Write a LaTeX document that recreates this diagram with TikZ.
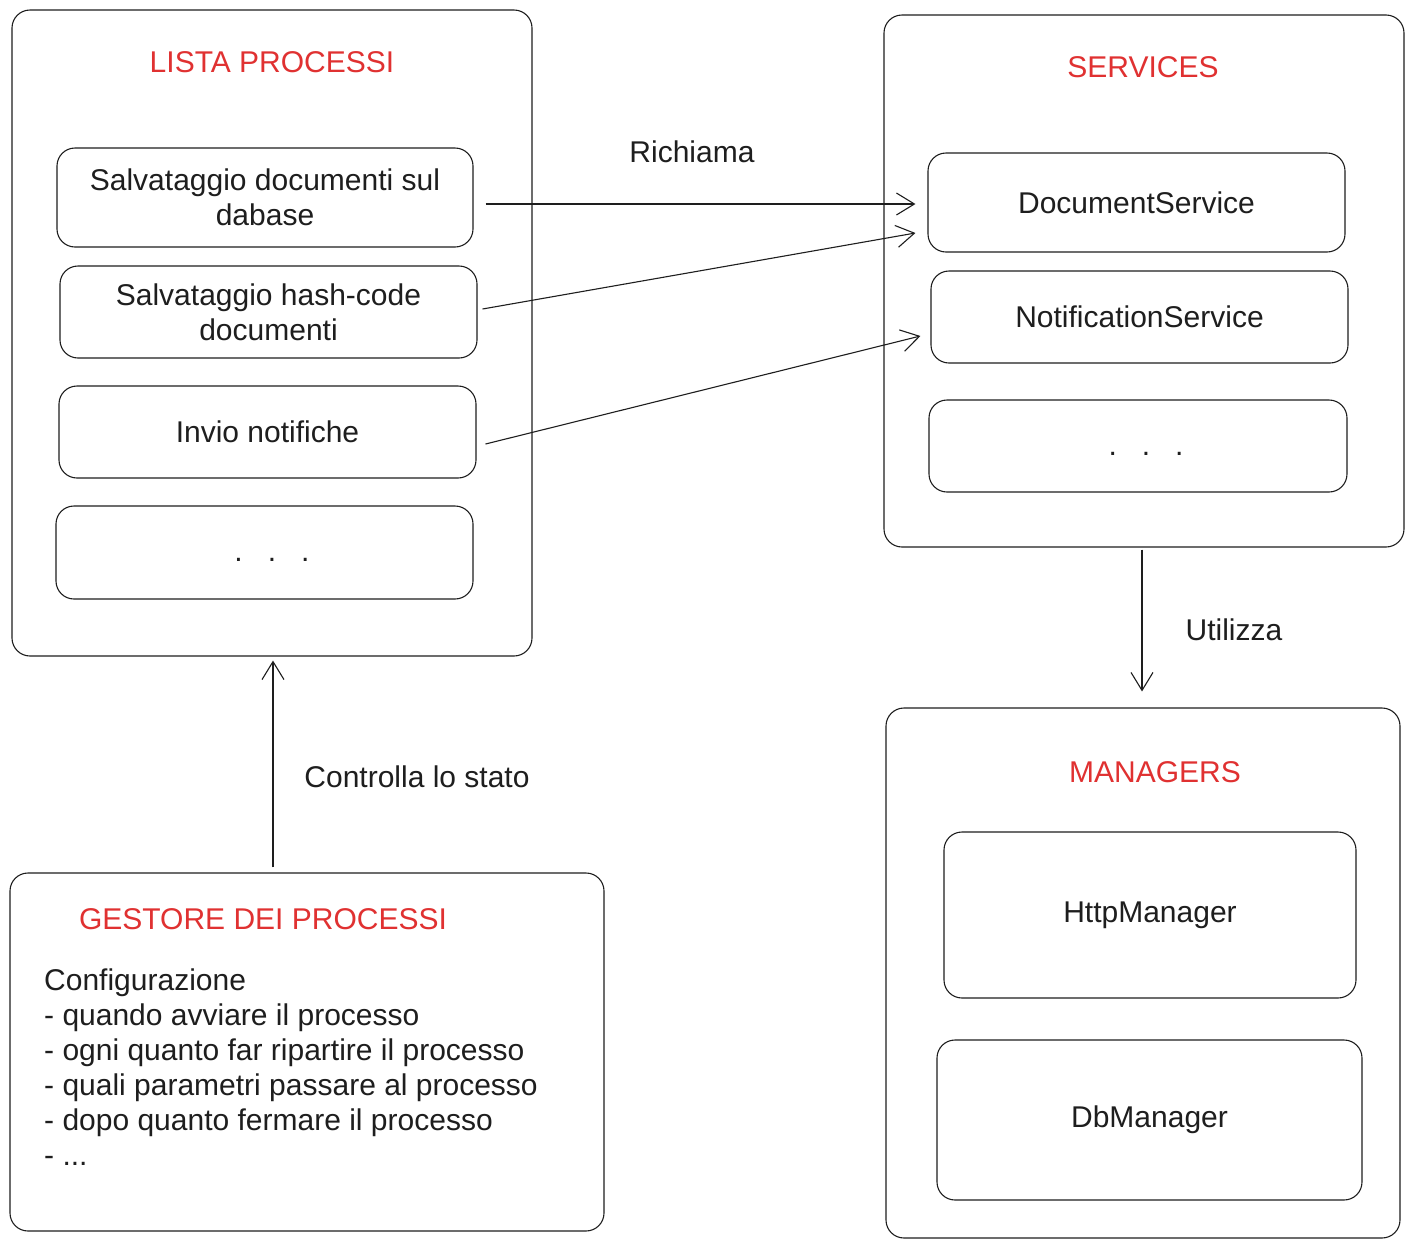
\documentclass[tikz,border=0pt]{standalone}
\usepackage{fontspec}
\setmainfont{Liberation Sans}
\usetikzlibrary{arrows.meta}
\definecolor{ink}{HTML}{1E1E1E}
\definecolor{exred}{HTML}{E03131}
\tikzset{
  box/.style={draw=ink, rounded corners=18pt, line width=1.1pt, inner sep=0pt},
  lbl/.style={text=ink, font=\fontsize{30}{35}\selectfont, align=center, inner sep=0pt},
  ttl/.style={text=exred, font=\fontsize{30}{35}\selectfont, inner sep=0pt},
  conn/.style={draw=ink, line width=1.1pt, -{Straight Barb[length=18pt,width=22pt,line width=1.1pt]}}
}
\begin{document}
\begin{tikzpicture}[x=1pt,y=-1pt]
\useasboundingbox[fill=white] (0,0) rectangle (1413,1248);
% LISTA PROCESSI
\node[box, minimum width=520pt, minimum height=646pt] (lista) at (272,333) {};
\node[ttl] (listaT) at (272,62) {LISTA PROCESSI};
\node[box, minimum width=416pt, minimum height=99pt, lbl] (p1) at (265,197.5) {Salvataggio documenti sul\\dabase};
\node[box, minimum width=417pt, minimum height=92pt, lbl] (p2) at (268.5,312) {Salvataggio hash-code\\documenti};
\node[box, minimum width=417pt, minimum height=92pt, lbl] (p3) at (267.5,432) {Invio notifiche};
\node[box, minimum width=417pt, minimum height=93pt] (p4) at (264.5,552.5) {};
\node[lbl] (p4d) at (272,560) {.\ \ \ .\ \ \ .};
% SERVICES
\node[box, minimum width=520pt, minimum height=532pt] (serv) at (1144,281) {};
\node[ttl] (servT) at (1143,67) {SERVICES};
\node[box, minimum width=417pt, minimum height=99pt, lbl] (s1) at (1136.5,202.5) {DocumentService};
\node[box, minimum width=417pt, minimum height=92pt, lbl] (s2) at (1139.5,317) {NotificationService};
\node[box, minimum width=418pt, minimum height=92pt] (s3) at (1138,446) {};
\node[lbl] (s3d) at (1146,454) {.\ \ \ .\ \ \ .};
% MANAGERS
\node[box, minimum width=514pt, minimum height=530pt] (man) at (1143,973) {};
\node[ttl] (manT) at (1155,772) {MANAGERS};
\node[box, minimum width=412pt, minimum height=166pt, lbl] (m1) at (1150,915) {HttpManager};
\node[box, minimum width=425pt, minimum height=160pt, lbl] (m2) at (1149.5,1120) {DbManager};
% GESTORE
\node[box, minimum width=594pt, minimum height=358pt] (gest) at (307,1052) {};
\node[ttl] (gestT) at (263,919) {GESTORE DEI PROCESSI};
\node[lbl, align=left, anchor=north west] (gestTxt) at (44,969) {Configurazione\\- quando avviare il processo\\- ogni quanto far ripartire il processo\\- quali parametri passare al processo\\- dopo quanto fermare il processo\\- ...};
% labels
\node[lbl] (richiama) at (692,152) {Richiama};
\node[lbl] (utilizza) at (1234,630) {Utilizza};
\node[lbl] (controlla) at (417,777) {Controlla lo stato};
% connectors
\draw[conn] ([xshift=12pt,yshift=-6.5pt]p1.east) -- ([xshift=-12pt,yshift=-1.5pt]s1.west);
\draw[conn] ([xshift=5pt,yshift=3pt]p2.east) -- ([xshift=-12pt,yshift=-30.5pt]s1.west);
\draw[conn] ([xshift=9pt,yshift=-12pt]p3.east) -- ([xshift=-10pt,yshift=-19pt]s2.west);
\draw[conn] ([xshift=-2pt,yshift=-2pt]serv.south) -- ([xshift=-1pt,yshift=16pt]man.north);
\draw[conn] ([xshift=-34pt,yshift=5pt]gest.north) -- ([xshift=1pt,yshift=-4pt]lista.south);
\end{tikzpicture}
\end{document}
